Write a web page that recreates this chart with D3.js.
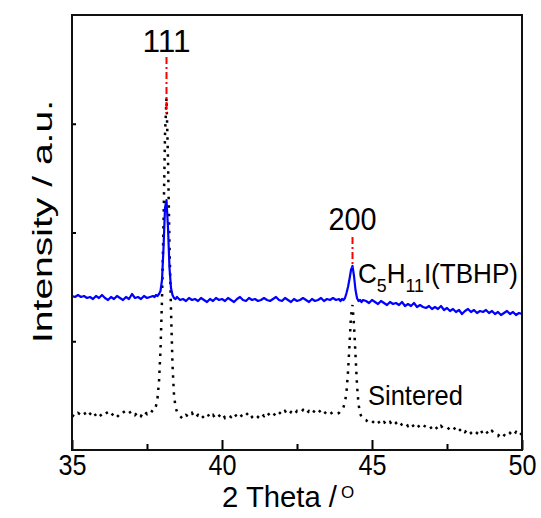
<!DOCTYPE html>
<html lang="en">
<head>
<meta charset="utf-8">
<title>XRD patterns</title>
<script src="https://cdn.jsdelivr.net/npm/d3@7"></script>
<style>
  body { margin: 0; background: #fff; }
  svg text { font-family: "Liberation Sans", Arial, sans-serif; fill: #000; }
</style>
</head>
<body>
<script>
// 2 theta grid (deg), denser around the two reflections
var twoTheta = [
  35.0,35.1,35.2,35.3,35.4,35.5,35.6,35.7,35.8,35.9,36.0,36.1,36.2,36.3,36.4,36.5,36.6,36.7,36.8,36.9,
  37.0,37.1,37.2,37.3,37.4,37.5,37.6,
  37.70,37.75,37.80,37.85,37.90,37.95,38.00,38.05,38.10,38.15,38.20,38.25,38.30,38.35,38.40,38.45,38.50,
  38.6,38.7,38.8,38.9,39.0,39.1,39.2,39.3,39.4,39.5,39.6,39.7,39.8,39.9,40.0,40.1,40.2,40.3,40.4,40.5,
  40.6,40.7,40.8,40.9,41.0,41.1,41.2,41.3,41.4,41.5,41.6,41.7,41.8,41.9,42.0,42.1,42.2,42.3,42.4,42.5,
  42.6,42.7,42.8,42.9,43.0,43.1,43.2,43.3,43.4,43.5,43.6,43.7,43.8,
  43.90,43.95,44.00,44.05,44.10,44.15,44.20,44.25,44.30,44.35,44.40,44.45,44.50,44.55,44.60,44.65,44.70,
  44.8,44.9,45.0,45.1,45.2,45.3,45.4,45.5,45.6,45.7,45.8,45.9,46.0,46.1,46.2,46.3,46.4,46.5,46.6,46.7,
  46.8,46.9,47.0,47.1,47.2,47.3,47.4,47.5,47.6,47.7,47.8,47.9,48.0,48.1,48.2,48.3,48.4,48.5,48.6,48.7,
  48.8,48.9,49.0,49.1,49.2,49.3,49.4,49.5,49.6,49.7,49.8,49.9,50.0
];

// C5H11I (TBHP) pattern, a.u.
var tbhp = [
  154,153,155,153,154,152,153,151,154,152,155,152,150,153,151,154,152,150,153,151,
  156,152,153,151,154,152,153,
  154,153,155,154,156,159,170,202,242,250,222,182,162,155,152,151,153,
  150,151,149,152,150,151,149,152,150,148,151,149,152,150,151,149,152,150,148,151,
  153,150,149,152,150,151,149,150,152,150,149,151,153,150,149,152,150,148,151,149,
  150,152,150,148,151,149,150,152,149,151,150,152,150,
  151,149,151,150,152,157,163,171,180,184,174,160,152,149,150,148,150,
  149,147,150,148,146,149,147,145,148,146,147,145,148,144,146,144,147,143,145,143,
  142,144,141,143,141,144,140,142,139,141,138,140,136,139,141,138,140,137,139,138,
  140,137,139,136,138,135,137,139,136,138,135,137,136
];

// Sintered pattern, a.u.
var sintered = [
  35,33,37,35,38,33,36,39,34,37,33,36,38,34,37,33,36,39,35,37,
  39,35,38,34,39,36,40,
  38,40,44,52,68,100,150,225,315,352,290,205,140,85,55,43,38,
  34,31,35,33,37,32,35,31,34,37,32,35,31,34,37,32,35,33,37,33,
  36,32,35,38,33,36,33,37,34,38,34,37,34,38,35,39,35,38,35,39,
  37,40,36,39,36,40,37,40,36,39,36,38,36,
  37,39,40,43,48,58,78,105,134,145,125,95,65,46,37,33,31,
  30,27,29,26,29,25,28,25,28,24,27,23,26,28,24,27,23,26,22,25,
  23,25,21,24,20,24,21,20,23,20,23,19,22,18,21,17,20,17,21,16,
  19,15,19,16,14,18,15,13,17,14,18,14,17
];

var xTicks = [35, 40, 45, 50];
var xMinorTicks = [37.5, 42.5, 47.5];
var yTicks = [108.75, 217.5, 326.25];

var peakAngles = [38.15, 44.35];
var peakLabels = ["111", "200"];
var peakMarkTop = [393, 213];
var peakMarkBottom = [337, 182];

var width = 541, height = 518;
var margin = {top: 15, right: 19, bottom: 68, left: 72};

var svg = d3.select("body").append("svg")
  .attr("width", width)
  .attr("height", height);

var x = d3.scaleLinear().domain([35, 50]).range([margin.left, width - margin.right]);
var y = d3.scaleLinear().domain([0, 435]).range([height - margin.bottom, margin.top]);

var line = d3.line()
  .x(function(d) { return x(d[0]); })
  .y(function(d) { return y(d[1]); });

function pairs(vals) {
  return vals.map(function(v, i) { return [twoTheta[i], v]; });
}

// patterns
svg.append("path")
  .datum(pairs(sintered))
  .attr("d", line)
  .attr("fill", "none")
  .attr("stroke", "#000")
  .attr("stroke-width", 2.5)
  .attr("stroke-dasharray", "2.5,6");

svg.append("path")
  .datum(pairs(tbhp))
  .attr("d", line)
  .attr("fill", "none")
  .attr("stroke", "#0000ff")
  .attr("stroke-width", 2.2)
  .attr("stroke-linejoin", "round");

// peak markers
peakAngles.forEach(function(a, i) {
  svg.append("line")
    .attr("x1", x(a)).attr("x2", x(a))
    .attr("y1", y(peakMarkTop[i])).attr("y2", y(peakMarkBottom[i]))
    .attr("stroke", "#ff0000")
    .attr("stroke-width", 2)
    .attr("stroke-dasharray", "7,3,2,3");
  svg.append("text")
    .attr("x", x(a) - 24)
    .attr("y", i == 0 ? 52 : 230)
    .attr("font-size", 32)
    .attr("textLength", 48)
    .attr("lengthAdjust", "spacingAndGlyphs")
    .text(peakLabels[i]);
});

// series labels
var lab = svg.append("text")
  .attr("x", 358)
  .attr("y", 283)
  .attr("font-size", 28)
  .attr("textLength", 160)
  .attr("lengthAdjust", "spacingAndGlyphs");
lab.append("tspan").text("C");
lab.append("tspan").attr("font-size", 19).attr("dy", 9).text("5");
lab.append("tspan").attr("dy", -9).text("H");
lab.append("tspan").attr("font-size", 19).attr("dy", 9).text("11");
lab.append("tspan").attr("dy", -9).text("I(TBHP)");

svg.append("text")
  .attr("x", 368)
  .attr("y", 405)
  .attr("font-size", 28)
  .attr("textLength", 95)
  .attr("lengthAdjust", "spacingAndGlyphs")
  .text("Sintered");

// axes
var xAxis = svg.append("g")
  .attr("transform", "translate(0," + y(0) + ")")
  .call(d3.axisBottom(x).tickValues(xTicks).tickSize(-10).tickPadding(4));
xAxis.selectAll("text")
  .attr("font-size", 30)
  .attr("font-family", null)
  .attr("text-anchor", "start")
  .attr("x", -14)
  .attr("textLength", 28)
  .attr("lengthAdjust", "spacingAndGlyphs");

svg.append("g")
  .attr("transform", "translate(0," + y(0) + ")")
  .call(d3.axisBottom(x).tickValues(xMinorTicks).tickSize(-6).tickFormat(""));

svg.append("g")
  .attr("transform", "translate(" + x(35) + ",0)")
  .call(d3.axisLeft(y).tickValues(yTicks).tickSize(-4).tickFormat(""));

svg.selectAll(".domain").remove();
svg.selectAll(".tick line").attr("stroke", "#000").attr("stroke-width", 2);

svg.append("rect")
  .attr("x", x(35)).attr("y", y(435))
  .attr("width", x(50) - x(35)).attr("height", y(0) - y(435))
  .attr("fill", "none")
  .attr("stroke", "#111")
  .attr("stroke-width", 2);

// axis titles
svg.append("text")
  .attr("x", 222)
  .attr("y", 507)
  .attr("font-size", 29)
  .attr("textLength", 115)
  .attr("lengthAdjust", "spacingAndGlyphs")
  .text("2 Theta /");
svg.append("text")
  .attr("x", 341)
  .attr("y", 498)
  .attr("font-family", "'Liberation Serif', 'Times New Roman', serif")
  .attr("font-size", 17)
  .text("O");

svg.append("text")
  .attr("transform", "translate(52,343) rotate(-90)")
  .attr("font-size", 27)
  .attr("textLength", 243)
  .attr("lengthAdjust", "spacingAndGlyphs")
  .text("Intensity / a.u.");
</script>
</body>
</html>
